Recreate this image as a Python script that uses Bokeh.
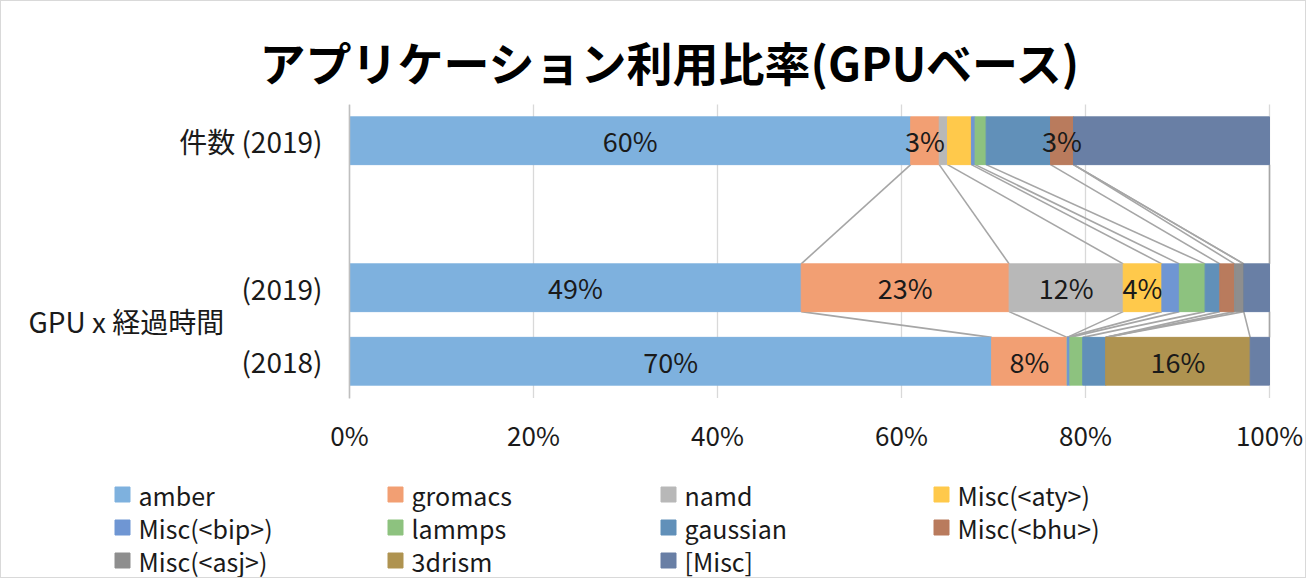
from bokeh.plotting import figure
from bokeh.models import ColumnDataSource, FixedTicker, Range1d, PrintfTickFormatter
from bokeh.layouts import column
from bokeh.embed import file_html
from bokeh.resources import INLINE
from bokeh.core.properties import value

# ---------------- data ----------------
title_text = "アプリケーション利用比率(GPUベース)"
rows = ["件数 (2019)", "(2019)", "(2018)"]
group_label = "GPU x 経過時間"
series_names = ["amber", "gromacs", "namd", "Misc(<aty>)", "Misc(<bip>)", "lammps",
                "gaussian", "Misc(<bhu>)", "Misc(<asj>)", "3drism", "[Misc]"]

amber    = [61.0, 49.1, 69.8]
gromacs  = [3.1, 22.6, 8.2]
namd     = [0.9, 12.4, 0.0]
aty      = [2.6, 4.2, 0.0]
bip      = [0.4, 1.9, 0.3]
lammps   = [1.2, 2.8, 1.4]
gaussian = [7.0, 1.6, 2.5]
bhu      = [2.5, 1.6, 0.0]
asj      = [0.0, 1.0, 0.0]
drism    = [0.0, 0.0, 15.7]
misc     = [21.3, 2.8, 2.1]

amber_lbl    = ["60%", "49%", "70%"]
gromacs_lbl  = ["3%", "23%", "8%"]
namd_lbl     = ["", "12%", ""]
aty_lbl      = ["", "4%", ""]
bhu_lbl      = ["3%", "", ""]
drism_lbl    = ["", "", "16%"]
empty_lbl    = ["", "", ""]

x_ticks = [0, 20, 40, 60, 80, 100]

# ---------------- styling / layout ----------------
colors = ["#7EB1DE", "#F29F73", "#B8B8B8", "#FFC94B", "#6F96D3", "#8DC27F",
          "#6190B9", "#B97B5D", "#8E8E8E", "#AF9350", "#697FA5"]
FONT_NAME = "Noto Sans CJK JP"
FONT = value(FONT_NAME)
TXT = "#1a1a1a"

values = [amber, gromacs, namd, aty, bip, lammps, gaussian, bhu, asj, drism, misc]
labels = [amber_lbl, gromacs_lbl, namd_lbl, aty_lbl, empty_lbl, empty_lbl,
          empty_lbl, bhu_lbl, empty_lbl, drism_lbl, empty_lbl]
keys = ["s%d" % i for i in range(len(series_names))]

n_slots = 4                      # category slots (one empty slot between groups)
row_pos = [3.5, 1.5, 0.5]
bar_h = 0.65

# pixel geometry of the plot region (page pixels)
PX0, PPX = 349.0, 9.2            # x of 0 %, pixels per %
PY0, PPY = 397.5, 73.5           # y of slot 0 bottom, pixels per slot
CANVAS_X, CANVAS_Y = 1, 1
FRAME_W, FRAME_H, TOP = 1304, 473, 103


def dx(px):
    return (px - PX0) / PPX


def dy(py):
    return (PY0 - py) / PPY


x_start = dx(CANVAS_X)
x_end = x_start + FRAME_W / PPX
y_end = dy(CANVAS_Y + TOP)
y_start = y_end - FRAME_H / PPY

data = {"y": row_pos}
for k, v in zip(keys, values):
    data[k] = v
src = ColumnDataSource(data)

p = figure(frame_width=FRAME_W, frame_height=FRAME_H,
           min_border_left=0, min_border_right=0, min_border_top=TOP, min_border_bottom=0,
           x_range=Range1d(x_start, x_end), y_range=Range1d(y_start, y_end),
           output_backend="svg", toolbar_location=None, title=title_text)
p.outline_line_color = None
p.background_fill_color = "white"
p.border_fill_color = "white"

p.title.text_font = FONT_NAME
p.title.text_font_size = "46px"
p.title.text_font_style = "bold"
p.title.align = "left"
p.title.offset = 258
p.title.text_color = "#000000"
p.title.standoff = 22

# vertical gridlines (only over the bar area)
p.segment(x0=x_ticks, y0=[0] * len(x_ticks), x1=x_ticks, y1=[n_slots] * len(x_ticks),
          line_color="#D9D9D9", line_width=1.3)
p.xgrid.visible = False
p.ygrid.visible = False

# series lines (connectors between adjacent bars)
cums = []
for r in range(len(row_pos)):
    c, acc = [], 0.0
    for v in values:
        acc += v[r]
        c.append(acc)
    cums.append(c)
xs, ys = [], []
for r in range(len(row_pos) - 1):
    y0, y1 = row_pos[r] - bar_h / 2, row_pos[r + 1] + bar_h / 2
    for k in range(len(values)):
        xs.append([cums[r][k], cums[r + 1][k]])
        ys.append([y0, y1])
p.multi_line(xs, ys, line_color="#A6A6A6", line_width=1.6)

p.hbar_stack(keys, y="y", height=bar_h, color=colors, source=src)

# segment labels
lx, ly, lt = [], [], []
for r in range(len(row_pos)):
    start = 0.0
    for k, v in enumerate(values):
        if labels[k][r]:
            lx.append(start + v[r] / 2)
            ly.append(row_pos[r])
            lt.append(labels[k][r])
        start += v[r]
p.text(lx, ly, text=lt, text_font=FONT, text_font_size="27px", text_color=TXT,
       text_align="center", text_baseline="middle")

# axes (pinned at the 0 lines)
xa = p.xaxis[0]
xa.fixed_location = 0
xa.bounds = (x_ticks[0], x_ticks[-1])
xa.ticker = FixedTicker(ticks=x_ticks)
xa.formatter = PrintfTickFormatter(format="%d%%")
xa.axis_line_color = None
xa.major_tick_line_color = None
xa.minor_tick_line_color = None
xa.major_label_standoff = 12
xa.major_label_text_font = FONT_NAME
xa.major_label_text_font_size = "26px"
xa.major_label_text_color = TXT

ya = p.yaxis[0]
ya.fixed_location = 0
ya.bounds = (0, n_slots)
ya.ticker = FixedTicker(ticks=row_pos)
ya.major_label_overrides = {row_pos[i]: rows[i] for i in range(len(rows))}
ya.axis_line_color = "#BFBFBF"
ya.axis_line_width = 1.5
ya.major_tick_line_color = None
ya.minor_tick_line_color = None
ya.major_label_standoff = 21
ya.major_label_text_font = FONT_NAME
ya.major_label_text_font_size = "28px"
ya.major_label_text_color = TXT

# group label for the two GPU x time rows
p.text([dx(28)], [(row_pos[1] + row_pos[2]) / 2 + 0.05], text=[group_label],
       text_font=FONT, text_font_size="28px", text_color=TXT,
       text_align="left", text_baseline="middle")

# legend (3 rows x 4 columns)
ncol = 4
col_px0, col_dpx = 122, 273
row_py0, row_dpy = 494, 33
sq_x = [dx(col_px0 + (i % ncol) * col_dpx) for i in range(len(series_names))]
sq_y = [dy(row_py0 + (i // ncol) * row_dpy) for i in range(len(series_names))]
p.scatter(sq_x, sq_y, marker="square", size=15, fill_color=colors, line_color=colors)
p.text([x + 16 / PPX for x in sq_x], sq_y, text=series_names, text_font=FONT,
       text_font_size="25px", text_color=TXT, text_align="left", text_baseline="middle")

layout = column(p, spacing=0, styles={"border": "1px solid #D9D9D9"})

open("out.html", "w").write(file_html(layout, INLINE))
